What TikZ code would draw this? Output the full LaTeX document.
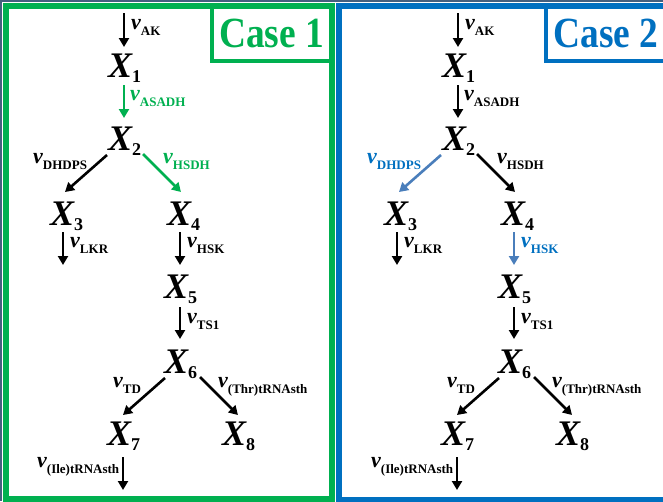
\documentclass[tikz,border=0pt]{standalone}
\usepackage{fontspec}
\setmainfont{Liberation Serif}
\usetikzlibrary{arrows.meta}
\definecolor{cgreen}{HTML}{00B050}
\definecolor{cblue}{HTML}{0070C0}
\definecolor{lblue}{HTML}{4A7EBB}
\definecolor{edge}{HTML}{44607F}
\newcommand\Xn[1]{{\fontsize{36}{36}\selectfont\bfseries\itshape X}\raisebox{-5pt}[0pt][0pt]{\fontsize{18}{18}\selectfont\bfseries #1}}
\newcommand\vr[1]{{\fontsize{22}{22}\selectfont\bfseries\itshape v}\raisebox{-6pt}[0pt][0pt]{\fontsize{13}{13}\selectfont\bfseries #1}}
\tikzset{
  xnode/.style={anchor=base west, inner sep=0pt, text=black},
  vlab/.style={anchor=base west, inner sep=0pt},
  arr/.style={line width=2.6pt, -{Triangle[length=9pt,width=10pt]}},
  casetxt/.style={anchor=base, inner sep=0pt, font=\fontsize{43}{43}\selectfont\bfseries},
}
% #1 asadh arrow, #2 asadh text, #3 dhdps arrow, #4 dhdps text,
% #5 hsdh arrow, #6 hsdh text, #7 hsk arrow, #8 hsk text
\newcommand\drawcase[8]{%
  \node[xnode] (X1) at (108,77) {\Xn{1}};
  \node[xnode] (X2) at (108,150) {\Xn{2}};
  \node[xnode] (X3) at (50,225) {\Xn{3}};
  \node[xnode] (X4) at (167,225) {\Xn{4}};
  \node[xnode] (X5) at (164,298) {\Xn{5}};
  \node[xnode] (X6) at (164,373) {\Xn{6}};
  \node[xnode] (X7) at (107,445) {\Xn{7}};
  \node[xnode] (X8) at (222,445) {\Xn{8}};
  % arrow end points
  \coordinate (ak0) at (124,13);  \coordinate (ak1) at (124,47);
  \coordinate (as0) at (124,85);  \coordinate (as1) at (124,118);
  \coordinate (dh0) at (107,155); \coordinate (dh1) at (65,192);
  \coordinate (hs0) at (143,154); \coordinate (hs1) at (181,192);
  \coordinate (lk0) at (63,232);  \coordinate (lk1) at (63,265);
  \coordinate (hk0) at (180,232); \coordinate (hk1) at (180,265);
  \coordinate (ts0) at (180,307); \coordinate (ts1) at (180,339);
  \coordinate (td0) at (165,378); \coordinate (td1) at (123,415);
  \coordinate (th0) at (200,377); \coordinate (th1) at (238,415);
  \coordinate (il0) at (123,457); \coordinate (il1) at (123,490);
  \draw[arr] (ak0) -- (ak1);
  \draw[arr,#1] (as0) -- (as1);
  \draw[arr,#3] (dh0) -- (dh1);
  \draw[arr,#5] (hs0) -- (hs1);
  \draw[arr] (lk0) -- (lk1);
  \draw[arr,#7] (hk0) -- (hk1);
  \draw[arr] (ts0) -- (ts1);
  \draw[arr] (td0) -- (td1);
  \draw[arr] (th0) -- (th1);
  \draw[arr] (il0) -- (il1);
  % labels
  \node[vlab] (lAK) at (131,29) {\vr{AK}};
  \node[vlab,text=#2] (lAS) at (130,100) {\vr{ASADH}};
  \node[vlab,text=#4] (lDH) at (33,163) {\vr{DHDPS}};
  \node[vlab,text=#6] (lHS) at (163,163) {\vr{HSDH}};
  \node[vlab] (lLK) at (70,247) {\vr{LKR}};
  \node[vlab,text=#8] (lHK) at (187,247) {\vr{HSK}};
  \node[vlab] (lTS) at (187,323) {\vr{TS1}};
  \node[vlab] (lTD) at (113,387) {\vr{TD}};
  \node[vlab] (lTH) at (218,387) {\vr{(Thr)tRNAsth}};
  \node[vlab] (lIL) at (37,467) {\vr{(Ile)tRNAsth}};
}
\begin{document}
\begin{tikzpicture}[x=1pt,y=-1pt]
\useasboundingbox (0,0) rectangle (663,501);
\clip (0,0) rectangle (663,501);
\fill[white] (0,0) rectangle (663,501);
% frames
\draw[cgreen,line width=6pt] (5.5,6) rectangle (332,499);
\draw[cblue,line width=6pt] (339,5.5) rectangle (667,499.5);
\draw[cgreen,line width=4pt] (212,6) -- (212,60.5) -- (332,60.5);
\draw[cblue,line width=4pt] (546,5.5) -- (546,60.5) -- (667,60.5);
\node[casetxt,text=cgreen] (c1) at (271.5,47) {\scalebox{0.87}[1]{Case 1}};
\node[casetxt,text=cblue] (c2) at (606,47) {\scalebox{0.87}[1]{Case 2}};
\draw[edge,line width=2pt] (1,501) -- (1,1) -- (663,1);
\begin{scope}
\drawcase{cgreen}{cgreen}{black}{black}{cgreen}{cgreen}{black}{black}
\end{scope}
\begin{scope}[xshift=334pt,name prefix=c2-]
\drawcase{black}{black}{lblue}{cblue}{black}{black}{lblue}{cblue}
\end{scope}
\end{tikzpicture}
\end{document}
